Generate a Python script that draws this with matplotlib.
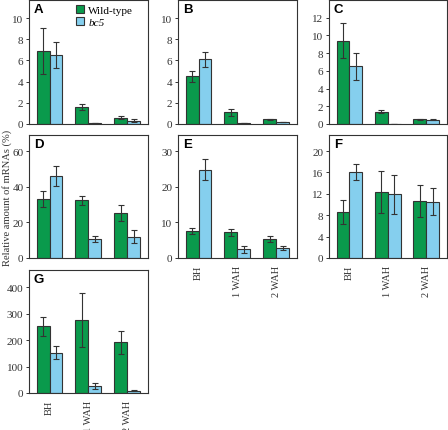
import numpy as np
import matplotlib
matplotlib.use("Agg")
import matplotlib.pyplot as plt

# data
groups = ["BH", "1 WAH", "2 WAH"]
panels = ["A", "B", "C", "D", "E", "F", "G"]

wt_mean = {
    "A": [6.9, 1.6, 0.6],
    "B": [4.5, 1.1, 0.45],
    "C": [9.4, 1.4, 0.55],
    "D": [33, 32.5, 25.5],
    "E": [7.6, 7.2, 5.4],
    "F": [8.6, 12.3, 10.7],
    "G": [253, 276, 192],
}
wt_err = {
    "A": [2.2, 0.3, 0.12],
    "B": [0.5, 0.3, 0.05],
    "C": [2.0, 0.15, 0.05],
    "D": [4.5, 2.5, 4.5],
    "E": [0.9, 0.9, 0.8],
    "F": [2.2, 3.9, 3.0],
    "G": [36, 103, 43],
}
bc5_mean = {
    "A": [6.5, 0.1, 0.3],
    "B": [6.1, 0.05, 0.15],
    "C": [6.5, 0.05, 0.5],
    "D": [46, 10.5, 12],
    "E": [24.8, 2.4, 2.8],
    "F": [16.1, 11.9, 10.5],
    "G": [153, 26, 8],
}
bc5_err = {
    "A": [1.25, 0.0, 0.15],
    "B": [0.7, 0.0, 0.0],
    "C": [1.55, 0.0, 0.1],
    "D": [5.5, 1.8, 3.5],
    "E": [2.9, 0.9, 0.6],
    "F": [1.5, 3.7, 2.5],
    "G": [25, 10, 2],
}
ylims = {"A": 11.7, "B": 11.7, "C": 14, "D": 69, "E": 34.5, "F": 23, "G": 466}
yticks = {
    "A": [0, 2, 4, 6, 8, 10],
    "B": [0, 2, 4, 6, 8, 10],
    "C": [0, 2, 4, 6, 8, 10, 12],
    "D": [0, 20, 40, 60],
    "E": [0, 10, 20, 30],
    "F": [0, 4, 8, 12, 16, 20],
    "G": [0, 100, 200, 300, 400],
}

# axes boxes in pixels: left, top, right, bottom
boxes = {
    "A": (29, 1, 148, 125),
    "B": (178, 1, 297, 125),
    "C": (329, 1, 447, 125),
    "D": (29, 136, 148, 259),
    "E": (178, 136, 297, 259),
    "F": (329, 136, 447, 259),
    "G": (29, 271, 148, 394),
}

W, H = 448, 431
green = "#0a9a4c"
blue = "#85cfee"
edge = "#333333"
serif = "Liberation Serif"

fig = plt.figure(figsize=(W / 100, H / 100), dpi=100)

x = np.arange(len(groups))
bw = 0.333
for p in panels:
    l, t, r, b = boxes[p]
    ax = fig.add_axes([l / W, 1 - b / H, (r - l) / W, (b - t) / H])
    ax.bar(x - bw / 2, wt_mean[p], bw, yerr=wt_err[p], color=green,
           edgecolor=edge, linewidth=0.8, label="Wild-type",
           error_kw=dict(ecolor=edge, elinewidth=0.8, capsize=2, capthick=0.8))
    ax.bar(x + bw / 2, bc5_mean[p], bw, yerr=bc5_err[p], color=blue,
           edgecolor=edge, linewidth=0.8, label="bc5",
           error_kw=dict(ecolor=edge, elinewidth=0.8, capsize=2, capthick=0.8))
    ax.set_xlim(-0.53, 2.54)
    ax.set_ylim(0, ylims[p])
    ax.set_yticks(yticks[p])
    ax.set_yticklabels([str(v) for v in yticks[p]], fontfamily=serif, fontsize=8, color="#333333")
    ax.tick_params(axis="y", direction="out", length=2.5, width=0.7, pad=1.5, color="#333333")
    if p in ("E", "F", "G"):
        ax.set_xticks(x)
        ax.set_xticklabels(groups, rotation=90, fontfamily=serif, fontsize=7.5, color="#333333")
        ax.tick_params(axis="x", length=0, pad=5)
    else:
        ax.set_xticks([])
    for s in ax.spines.values():
        s.set_linewidth(0.8)
        s.set_color("#333333")
    ax.text(0.04, 0.975, p, transform=ax.transAxes, ha="left", va="top",
            fontfamily="Liberation Sans", fontweight="bold", fontsize=9.5)
    if p == "A":
        leg = ax.legend(loc="upper left", bbox_to_anchor=(0.33, 1.02), frameon=False,
                        prop=dict(family=serif, size=8), handlelength=0.7,
                        handleheight=0.7, handletextpad=0.4, labelspacing=0.15,
                        borderaxespad=0.3)
        leg.get_texts()[1].set_fontstyle("italic")

fig.text(7 / W, 1 - 198 / H, "Relative amount of mRNAs (%)", rotation=90,
         ha="center", va="center", fontfamily=serif, fontsize=7.6, color="#333333")

fig.savefig("out.png", dpi=100)
